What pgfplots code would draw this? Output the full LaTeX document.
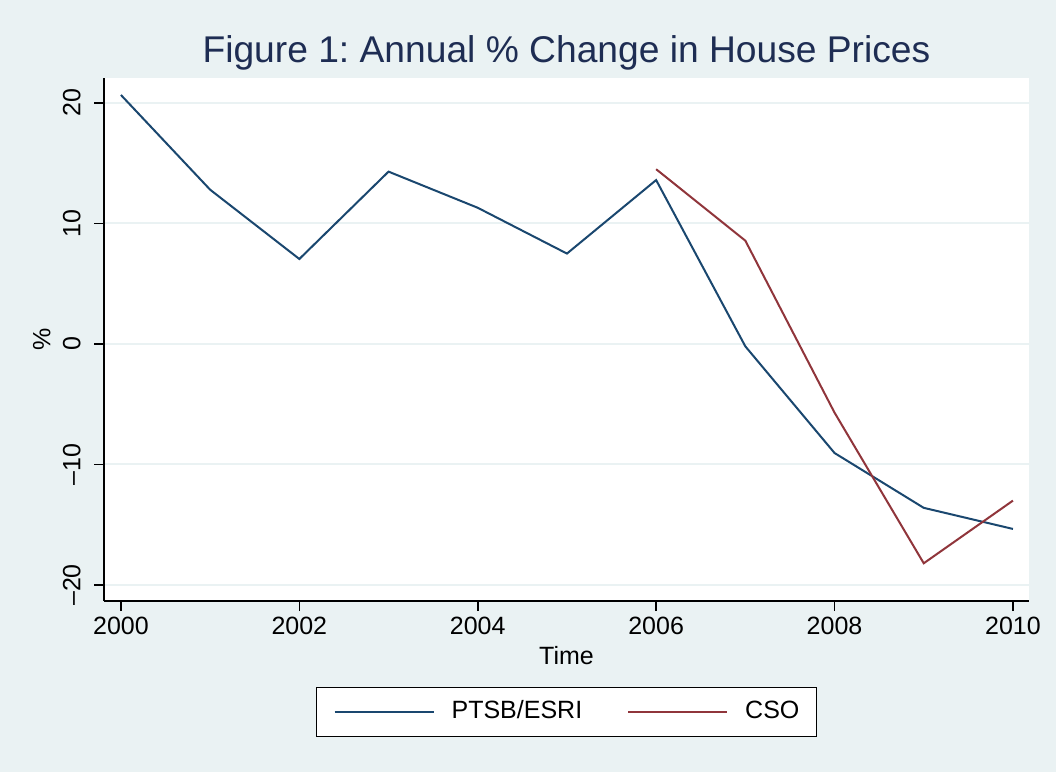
\documentclass[border=0pt]{standalone}
\usepackage{pgfplots}
\pgfplotsset{compat=1.18}
\usepackage{fontspec}
\setmainfont{Liberation Sans}
\frenchspacing
\definecolor{bgc}{RGB}{234,242,243}
\definecolor{snavy}{RGB}{26,71,111}
\definecolor{smaroon}{RGB}{144,53,59}
\definecolor{ttl}{RGB}{30,45,83}
\begin{document}
\begin{tikzpicture}
\fill[bgc] (0pt,0pt) rectangle (528pt,386pt);
\useasboundingbox (0pt,0pt) rectangle (528pt,386pt);
\begin{axis}[
  at={(52pt,85.5pt)}, anchor=south west,
  scale only axis, width=462.5pt, height=261.5pt,
  xmin=1999.81, xmax=2010.18, ymin=-21.33, ymax=22.07,
  axis background/.style={fill=white},
  axis x line*=bottom, axis y line*=left,
  axis line style={black, line width=0.8pt, -},
  xtick={2000,2002,2004,2006,2008,2010},
  xticklabels={2000,2002,2004,2006,2008,2010},
  ytick={-20,-10,0,10,20},
  yticklabels={–20,–10,0,10,20},
  tick align=outside, major tick length=5pt,
  tick style={black, line width=0.8pt},
  ymajorgrids, grid style={bgc, line width=1pt},
  font=\fontsize{12.5}{15}\selectfont,
  yticklabel style={rotate=90, anchor=south, inner xsep=0pt, inner ysep=6.5pt},
  xticklabel style={anchor=north, inner xsep=0pt, inner ysep=3pt},
  title={Figure 1: Annual \% Change in House Prices},
  title style={at={(axis description cs:0.5,1.0287)}, anchor=base, yshift=-6pt, font=\fontsize{18.6}{22}\selectfont, color=ttl},
  xlabel={Time},
  xlabel style={at={(axis description cs:0.5,-0.1205)}, anchor=base},
  ylabel={\%},
  ylabel style={at={(axis description cs:-0.0674,0.5)}, anchor=center, rotate=0},
  legend columns=2,
  legend image code/.code={\draw[#1] (0pt,0pt) -- (49.5pt,0pt);},
  legend style={at={(axis description cs:0.5,-0.212)}, anchor=center,
    draw=black, line width=0.5pt, fill=white,
    inner xsep=8.5pt, inner ysep=6.5pt,
    nodes={inner sep=0pt, text height=9pt, text depth=2.5pt},
    /tikz/every odd column/.append style={column sep=8.5pt},
    /tikz/every even column/.append style={column sep=22.5pt}},
]
\addplot[snavy, line width=1pt] coordinates {
  (2000,20.66) (2001,12.8) (2002,7.05) (2003,14.3) (2004,11.3) (2005,7.5)
  (2006,13.6) (2007,-0.2) (2008,-9.05) (2009,-13.6) (2010,-15.35)};
\addlegendentry{PTSB/ESRI}
\addplot[smaroon, line width=1pt] coordinates {
  (2006,14.5) (2007,8.57) (2008,-5.7) (2009,-18.2) (2010,-13.0)};
\addlegendentry{CSO}
\end{axis}
\end{tikzpicture}
\end{document}
